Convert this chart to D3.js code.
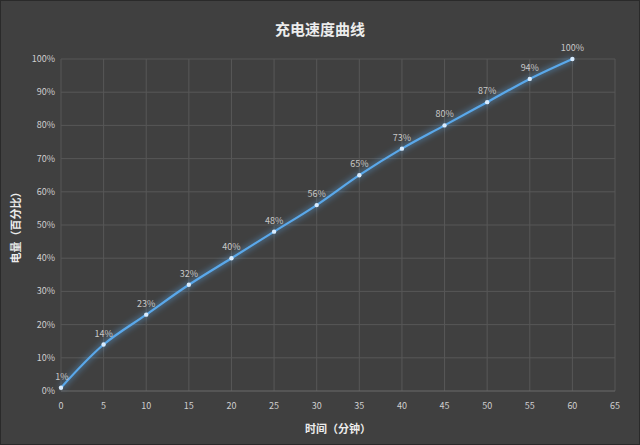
<!DOCTYPE html>
<html><head><meta charset="utf-8">
<script src="https://cdn.jsdelivr.net/npm/d3@7"></script>
<style>body{margin:0;background:#404040}text{font-family:"Noto Sans CJK SC",sans-serif}</style>
</head><body>
<svg id="c" width="640" height="445"></svg>
<script>
var minutes = [0, 5, 10, 15, 20, 25, 30, 35, 40, 45, 50, 55, 60];
var charge = [1, 14, 23, 32, 40, 48, 56, 65, 73, 80, 87, 94, 100];
var xTicks = d3.range(0, 66, 5);
var yTicks = d3.range(0, 101, 10);

var margin = {top: 59, right: 25, bottom: 54, left: 61};
var width = 640 - margin.left - margin.right;
var height = 445 - margin.top - margin.bottom;

var svg = d3.select("#c");
svg.append("rect").attr("x", 0.5).attr("y", 0.5).attr("width", 639).attr("height", 444)
    .attr("fill", "#404040").attr("stroke", "#2a2a2a");

var defs = svg.append("defs");
var f = defs.append("filter").attr("id", "glow").attr("x", "-10%").attr("y", "-10%")
    .attr("width", "120%").attr("height", "120%");
f.append("feGaussianBlur").attr("stdDeviation", 3).attr("result", "b");
var m = f.append("feMerge");
m.append("feMergeNode").attr("in", "b");
m.append("feMergeNode").attr("in", "SourceGraphic");

var x = d3.scaleLinear().domain([0, 65]).range([0, width]);
var y = d3.scaleLinear().domain([0, 100]).range([height, 0]);
var g = svg.append("g").attr("transform", "translate(" + margin.left + "," + margin.top + ")");

g.selectAll(".vg").data(xTicks).enter().append("line")
    .attr("x1", x).attr("x2", x).attr("y1", 0).attr("y2", height)
    .attr("stroke", "#575757");
g.selectAll(".hg").data(yTicks).enter().append("line")
    .attr("x1", 0).attr("x2", width).attr("y1", y).attr("y2", y)
    .attr("stroke", function(d) { return d === 0 ? "#6a6a6a" : "#575757"; });

g.selectAll(".xt").data(xTicks).enter().append("text")
    .attr("x", x).attr("y", height + 18).attr("text-anchor", "middle")
    .attr("fill", "#cfcfcf").attr("font-size", 9).text(function(d) { return d; });
g.selectAll(".yt").data(yTicks).enter().append("text")
    .attr("x", -6).attr("y", function(d) { return y(d) + 3; }).attr("text-anchor", "end")
    .attr("fill", "#cfcfcf").attr("font-size", 9).text(function(d) { return d + "%"; });

var pts = minutes.map(function(d, i) { return [d, charge[i]]; });
var line = d3.line().x(function(d) { return x(d[0]); }).y(function(d) { return y(d[1]); })
    .curve(d3.curveCatmullRom);
g.append("path").datum(pts).attr("d", line).attr("fill", "none")
    .attr("stroke", "#5aa8ea").attr("stroke-width", 2.2).attr("filter", "url(#glow)");
g.selectAll(".pt").data(pts).enter().append("circle")
    .attr("cx", function(d) { return x(d[0]); }).attr("cy", function(d) { return y(d[1]); })
    .attr("r", 2.2).attr("fill", "#d8ecff");
g.selectAll(".lb").data(pts).enter().append("text")
    .attr("x", function(d) { return x(d[0]) + (d[0] === 0 ? 1 : 0); })
    .attr("y", function(d) { return y(d[1]) - 8; })
    .attr("text-anchor", "middle").attr("fill", "#c8c8c8").attr("font-size", 9)
    .text(function(d) { return d[1] + "%"; });

svg.append("text").attr("x", 320).attr("y", 35).attr("text-anchor", "middle")
    .attr("fill", "#ececec").attr("font-size", 15).attr("font-weight", "bold").text("充电速度曲线");
svg.append("text").attr("x", margin.left + x(32.5)).attr("y", 433).attr("text-anchor", "middle")
    .attr("fill", "#ececec").attr("font-size", 11).attr("font-weight", "bold").text("时间（分钟）");
svg.append("text").attr("transform", "translate(20," + (margin.top + height / 2) + ") rotate(-90)")
    .attr("text-anchor", "middle").attr("fill", "#ececec").attr("font-size", 11)
    .attr("font-weight", "bold").text("电量（百分比）");
</script>
</body></html>
